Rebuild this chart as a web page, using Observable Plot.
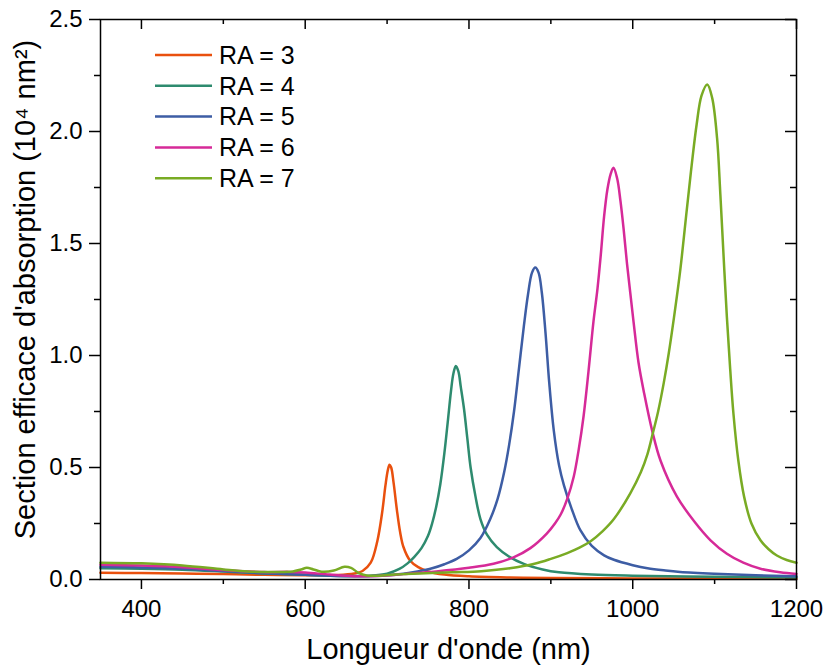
<!DOCTYPE html>
<html>
<head>
<meta charset="utf-8">
<script src="https://cdn.jsdelivr.net/npm/d3@7"></script>
<script src="https://cdn.jsdelivr.net/npm/@observablehq/plot@0.6"></script>
<style>
  html, body { margin: 0; padding: 0; background: #fff; }
  #chart { width: 825px; height: 668px; }
  svg { font-family: "Liberation Sans", Arial, sans-serif; }
</style>
</head>
<body>
<div id="chart"></div>
<script>
// Series labels and colours
const seriesNames = ["RA = 3", "RA = 4", "RA = 5", "RA = 6", "RA = 7"];
const seriesColors = ["#E9500E", "#2E8B6F", "#3D5DA4", "#D62A98", "#79AB24"];

// RA = 3 (wavelength nm, cross-section 10^4 nm^2)
const wl3 = [350,400,450,500,550,600,640,660,670,680,688,694,698,701,703,705,708,712,716,720,728,738,750,770,800,850,900,1000,1100,1200];
const ra3 = [0.030,0.029,0.027,0.024,0.021,0.019,0.020,0.027,0.038,0.075,0.17,0.30,0.42,0.49,0.512,0.50,0.43,0.31,0.21,0.145,0.085,0.055,0.036,0.022,0.014,0.009,0.007,0.005,0.004,0.003];

// RA = 4
const wl4 = [350,400,450,500,550,600,650,680,700,715,725,733,742,750,755,760,765,770,774,778,781,784,787,790,794,798,802,808,814,822,834,850,867,890,910,950,1000,1100,1200];
const ra4 = [0.050,0.048,0.044,0.036,0.027,0.021,0.016,0.017,0.026,0.047,0.072,0.10,0.14,0.195,0.25,0.325,0.425,0.565,0.70,0.84,0.92,0.953,0.93,0.86,0.76,0.63,0.50,0.37,0.27,0.20,0.145,0.10,0.07,0.045,0.032,0.022,0.017,0.012,0.009];

// RA = 5
const wl5 = [350,400,450,500,550,600,650,680,700,720,737,755,770,785,800,814,826,835,843,849,855,861,867,872,877,881,885,889,893.5,898,903.6,910,916,925,936,950,965,977,1000,1018,1040,1058,1100,1150,1200];
const ra5 = [0.057,0.054,0.048,0.038,0.028,0.021,0.015,0.016,0.019,0.026,0.036,0.050,0.068,0.092,0.13,0.185,0.27,0.36,0.48,0.60,0.75,0.94,1.13,1.27,1.37,1.393,1.37,1.28,1.10,0.88,0.665,0.51,0.42,0.32,0.22,0.15,0.108,0.088,0.064,0.050,0.040,0.034,0.026,0.019,0.014];

// RA = 6
const wl6 = [350,400,450,500,550,580,600,630,660,690,720,760,800,830,855,875,895,905,912,920,928,934,940,946,952,957,961,965,969,973,976.5,981,985,989,993,997,1001,1007,1014,1024,1034,1054,1075,1095,1115,1135,1156,1180,1200];
const ra6 = [0.066,0.062,0.055,0.042,0.033,0.034,0.031,0.022,0.015,0.016,0.024,0.036,0.052,0.070,0.10,0.14,0.205,0.25,0.29,0.36,0.46,0.58,0.73,0.93,1.15,1.30,1.45,1.62,1.74,1.81,1.838,1.79,1.69,1.56,1.41,1.28,1.15,0.97,0.83,0.66,0.53,0.37,0.26,0.175,0.115,0.075,0.048,0.032,0.025];

// RA = 7
const wl7 = [350,400,450,500,530,560,585,595,602,610,620,635,648,656,665,675,690,710,740,780,815,850,880,900,920,935,949,963,977,997,1010,1018,1024,1031,1038,1044,1050,1058,1066,1072,1078,1084,1091,1097,1103,1107,1111,1115,1119,1123,1129,1136,1145,1156,1166,1176,1188,1200];
const ra7 = [0.075,0.072,0.063,0.045,0.036,0.034,0.036,0.045,0.052,0.045,0.035,0.040,0.057,0.052,0.030,0.018,0.017,0.022,0.027,0.032,0.037,0.05,0.07,0.092,0.118,0.142,0.172,0.215,0.27,0.385,0.48,0.56,0.645,0.75,0.88,1.01,1.16,1.38,1.65,1.85,2.03,2.16,2.21,2.15,1.97,1.72,1.44,1.17,0.94,0.74,0.53,0.37,0.25,0.175,0.135,0.107,0.087,0.075];

// Axis ticks
const xMajor = [400, 600, 800, 1000, 1200];
const xMinor = [500, 700, 900, 1100];
const yMajor = [0, 0.5, 1.0, 1.5, 2.0, 2.5];
const yMinor = [0.25, 0.75, 1.25, 1.75, 2.25];

const xTitle = "Longueur d'onde (nm)";
const yTitle = "Section efficace d'absorption (10\u2074 nm\u00B2)";

const wls = [wl3, wl4, wl5, wl6, wl7];
const vals = [ra3, ra4, ra5, ra6, ra7];
const data = [];
wls.forEach((w, s) => w.forEach((x, i) => data.push({series: seriesNames[s], wl: x, v: vals[s][i]})));

const fmt = d3.format(".1f");

const svg = Plot.plot({
  width: 825,
  height: 668,
  marginLeft: 100,
  marginRight: 29,
  marginTop: 19,
  marginBottom: 89,
  style: {fontFamily: "'Liberation Sans', Arial, sans-serif", fontSize: "24px", color: "black", background: "white"},
  x: {domain: [350, 1200]},
  y: {domain: [0, 2.5]},
  color: {domain: seriesNames, range: seriesColors},
  marks: [
    Plot.line(data, {x: "wl", y: "v", z: "series", stroke: "series", strokeWidth: 2.5, curve: "catmull-rom"}),
    Plot.frame({stroke: "black", strokeWidth: 1.5}),
    // bottom axis (outward)
    Plot.axisX(xMajor, {anchor: "bottom", tickSize: 10, tickPadding: 10, strokeWidth: 1.5, fontSize: 24, label: null, tickFormat: d => String(d)}),
    Plot.axisX(xMinor, {anchor: "bottom", tickSize: 5, fill: "none", strokeWidth: 1.5, label: null}),
    // top axis (inward)
    Plot.axisX(xMajor, {anchor: "bottom", frameAnchor: "top", tickSize: 10, fill: "none", strokeWidth: 1.5, label: null}),
    Plot.axisX(xMinor, {anchor: "bottom", frameAnchor: "top", tickSize: 5, fill: "none", strokeWidth: 1.5, label: null}),
    // left axis (outward)
    Plot.axisY(yMajor, {anchor: "left", tickSize: 11, tickPadding: 7, strokeWidth: 1.5, fontSize: 24, label: null, tickFormat: fmt}),
    Plot.axisY(yMinor, {anchor: "left", tickSize: 6, fill: "none", strokeWidth: 1.5, label: null}),
    // right axis (inward)
    Plot.axisY(yMajor, {anchor: "left", frameAnchor: "right", tickSize: 11, fill: "none", strokeWidth: 1.5, label: null}),
    Plot.axisY(yMinor, {anchor: "left", frameAnchor: "right", tickSize: 6, fill: "none", strokeWidth: 1.5, label: null}),
    // axis titles
    Plot.text([xTitle], {frameAnchor: "bottom", dy: 59, lineAnchor: "top", textAnchor: "middle", fontSize: 29, fill: "black"}),
    Plot.text([yTitle], {frameAnchor: "left", rotate: -90, dx: -86, dy: -10, lineAnchor: "top", textAnchor: "middle", fontSize: 29, fill: "black"})
  ]
});

// legend inside the plot area
const lg = d3.select(svg).append("g").attr("class", "legend").attr("text-anchor", "start");
seriesNames.forEach((name, i) => {
  const y = 55 + i * 30.8;
  lg.append("line").attr("x1", 155).attr("x2", 212).attr("y1", y).attr("y2", y)
    .attr("stroke", seriesColors[i]).attr("stroke-width", 2.5);
  lg.append("text").attr("x", 219).attr("y", y).attr("dy", "0.35em")
    .attr("text-anchor", "start")
    .attr("font-size", 25).attr("fill", "black").text(name);
});

document.getElementById("chart").appendChild(svg);
</script>
</body>
</html>
